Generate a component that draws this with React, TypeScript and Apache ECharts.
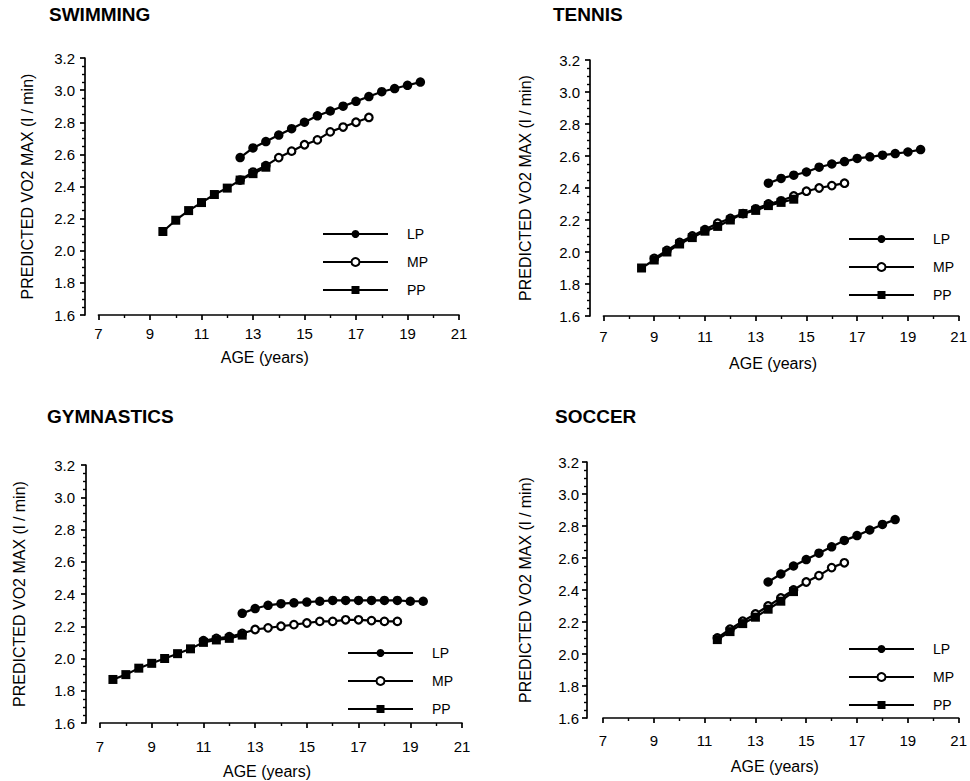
import React, { useEffect, useRef } from "react";
import * as echarts from "echarts";

// ---------- DATA ----------
const xTicks = [7, 9, 11, 13, 15, 17, 19, 21];
const yTicks = [1.6, 1.8, 2.0, 2.2, 2.4, 2.6, 2.8, 3.0, 3.2];
const seriesNames = ["LP", "MP", "PP"];
const panelTitles = ["SWIMMING", "TENNIS", "GYMNASTICS", "SOCCER"];

// Swimming
const swimLPAges = [12.5, 13, 13.5, 14, 14.5, 15, 15.5, 16, 16.5, 17, 17.5, 18, 18.5, 19, 19.5];
const swimLP = [2.58, 2.64, 2.68, 2.72, 2.76, 2.8, 2.84, 2.87, 2.9, 2.93, 2.96, 2.99, 3.01, 3.03, 3.05];
const swimMPAges = [12.5, 13, 13.5, 14, 14.5, 15, 15.5, 16, 16.5, 17, 17.5];
const swimMP = [2.44, 2.49, 2.53, 2.58, 2.62, 2.66, 2.69, 2.74, 2.77, 2.8, 2.83];
const swimPPAges = [9.5, 10, 10.5, 11, 11.5, 12, 12.5, 13, 13.5];
const swimPP = [2.12, 2.19, 2.25, 2.3, 2.35, 2.39, 2.44, 2.48, 2.52];

// Tennis
const tennisLPAges = [13.5, 14, 14.5, 15, 15.5, 16, 16.5, 17, 17.5, 18, 18.5, 19, 19.5];
const tennisLP = [2.43, 2.46, 2.48, 2.5, 2.53, 2.55, 2.565, 2.585, 2.595, 2.605, 2.615, 2.625, 2.64];
const tennisMPAges = [9, 9.5, 10, 10.5, 11, 11.5, 12, 12.5, 13, 13.5, 14, 14.5, 15, 15.5, 16, 16.5];
const tennisMP = [1.96, 2.01, 2.06, 2.1, 2.14, 2.18, 2.21, 2.24, 2.27, 2.3, 2.32, 2.35, 2.38, 2.4, 2.415, 2.43];
const tennisPPAges = [8.5, 9, 9.5, 10, 10.5, 11, 11.5, 12, 12.5, 13, 13.5, 14, 14.5];
const tennisPP = [1.9, 1.95, 2.0, 2.05, 2.09, 2.13, 2.16, 2.2, 2.24, 2.26, 2.29, 2.31, 2.33];

// Gymnastics
const gymLPAges = [12.5, 13, 13.5, 14, 14.5, 15, 15.5, 16, 16.5, 17, 17.5, 18, 18.5, 19, 19.5];
const gymLP = [2.28, 2.31, 2.33, 2.34, 2.345, 2.35, 2.355, 2.36, 2.36, 2.36, 2.36, 2.36, 2.36, 2.355, 2.355];
const gymMPAges = [11, 11.5, 12, 12.5, 13, 13.5, 14, 14.5, 15, 15.5, 16, 16.5, 17, 17.5, 18, 18.5];
const gymMP = [2.11, 2.125, 2.135, 2.155, 2.18, 2.19, 2.2, 2.21, 2.22, 2.23, 2.23, 2.24, 2.24, 2.235, 2.23, 2.23];
const gymPPAges = [7.5, 8, 8.5, 9, 9.5, 10, 10.5, 11, 11.5, 12, 12.5];
const gymPP = [1.87, 1.9, 1.94, 1.97, 2.0, 2.03, 2.06, 2.1, 2.115, 2.125, 2.145];

// Soccer
const soccerLPAges = [13.5, 14, 14.5, 15, 15.5, 16, 16.5, 17, 17.5, 18, 18.5];
const soccerLP = [2.45, 2.5, 2.55, 2.59, 2.63, 2.67, 2.71, 2.74, 2.775, 2.81, 2.84];
const soccerMPAges = [11.5, 12, 12.5, 13, 13.5, 14, 14.5, 15, 15.5, 16, 16.5];
const soccerMP = [2.1, 2.155, 2.205, 2.25, 2.3, 2.35, 2.4, 2.45, 2.49, 2.54, 2.57];
const soccerPPAges = [11.5, 12, 12.5, 13, 13.5, 14, 14.5];
const soccerPP = [2.09, 2.14, 2.19, 2.23, 2.28, 2.33, 2.39];

const panelData = [
  [[swimLPAges, swimLP], [swimMPAges, swimMP], [swimPPAges, swimPP]],
  [[tennisLPAges, tennisLP], [tennisMPAges, tennisMP], [tennisPPAges, tennisPP]],
  [[gymLPAges, gymLP], [gymMPAges, gymMP], [gymPPAges, gymPP]],
  [[soccerLPAges, soccerLP], [soccerMPAges, soccerMP], [soccerPPAges, soccerPP]],
];

// ---------- LAYOUT ----------
const FONT = "Liberation Sans, Arial, Helvetica, sans-serif";
const layouts = [
  { left: 98.5, top: 58, width: 360.5, height: 257, yOff: 13.5, yGap: 50, yLblM: 10, xLblM: 11, xGap: 34, xShift: 28, titleX: 49, titleY: 5, legX: 322, legY: 227 },
  { left: 603.5, top: 60, width: 358.5, height: 256, yOff: 13.5, yGap: 57, yLblM: 10, xLblM: 13, xGap: 39, xShift: 16, titleX: 553, titleY: 5, legX: 848, legY: 232 },
  { left: 100, top: 465, width: 362, height: 258, yOff: 14, yGap: 59, yLblM: 11, xLblM: 16, xGap: 40, xShift: 28, titleX: 47, titleY: 407, legX: 347, legY: 646 },
  { left: 603, top: 462, width: 359, height: 256, yOff: 16, yGap: 54, yLblM: 8, xLblM: 15, xGap: 40, xShift: 12, titleX: 555, titleY: 407, legX: 848, legY: 642 },
];

const axisLineStyle = { color: "#000", width: 1.7 };

export default function App() {
  const ref = useRef<HTMLDivElement>(null);
  useEffect(() => {
    if (!ref.current) return;
    const chart = echarts.init(ref.current, undefined, { renderer: "svg" });
    const grids: any[] = [];
    const xAxes: any[] = [];
    const yAxes: any[] = [];
    const series: any[] = [];
    const legends: any[] = [];
    const titles: any[] = [];

    layouts.forEach((L, i) => {
      grids.push({ left: L.left, top: L.top, width: L.width, height: L.height });
      xAxes.push({
        type: "value",
        gridIndex: i,
        min: xTicks[0],
        max: xTicks[xTicks.length - 1],
        interval: 2,
        name: "AGE (years)",
        nameLocation: "middle",
        nameGap: L.xGap,
        nameTextStyle: { color: "#000", fontSize: 16, fontFamily: FONT, padding: [0, L.xShift, 0, 0] },
        axisLine: { lineStyle: axisLineStyle },
        axisTick: { length: 5, lineStyle: axisLineStyle },
        minorTick: { show: true, splitNumber: 2, length: 3, lineStyle: { color: "#000", width: 1.4 } },
        splitLine: { show: false },
        axisLabel: { color: "#000", fontSize: 15, fontFamily: FONT, margin: L.xLblM },
      });
      yAxes.push({
        type: "value",
        gridIndex: i,
        min: yTicks[0],
        max: yTicks[yTicks.length - 1],
        interval: 0.2,
        offset: L.yOff,
        name: "PREDICTED VO2 MAX (l / min)",
        nameLocation: "middle",
        nameGap: L.yGap,
        nameTextStyle: { color: "#000", fontSize: 16, fontFamily: FONT },
        axisLine: { show: true, lineStyle: axisLineStyle },
        axisTick: { show: true, length: 5, lineStyle: axisLineStyle },
        minorTick: { show: true, splitNumber: 4, length: 3, lineStyle: { color: "#000", width: 1.4 } },
        splitLine: { show: false },
        axisLabel: {
          color: "#000",
          fontSize: 15,
          fontFamily: FONT,
          margin: L.yLblM,
          formatter: (v: number) => v.toFixed(1),
        },
      });
      panelData[i].forEach(([ages, vals], k) => {
        const name = seriesNames[k];
        const isMP = name === "MP";
        const isPP = name === "PP";
        series.push({
          type: "line",
          name,
          xAxisIndex: i,
          yAxisIndex: i,
          data: (ages as number[]).map((a, j) => [a, (vals as number[])[j]]),
          symbol: isPP ? "rect" : "circle",
          symbolSize: isPP ? 9 : isMP ? 7.5 : 9.5,
          showSymbol: true,
          lineStyle: { color: "#000", width: 2.2 },
          itemStyle: isMP
            ? { color: "#fff", borderColor: "#000", borderWidth: 2.2 }
            : { color: "#000", borderColor: "#000", borderWidth: 0 },
          z: isPP ? 4 : 3,
          silent: true,
        });
      });
      legends.push({
        data: seriesNames,
        orient: "vertical",
        left: L.legX,
        top: L.legY,
        padding: 0,
        itemWidth: 65,
        itemHeight: 10,
        itemGap: 14,
        selectedMode: false,
        textStyle: { color: "#000", fontSize: 14, fontFamily: FONT, padding: [0, 0, 0, 14], lineHeight: 10 },
      });
      titles.push({
        text: panelTitles[i],
        left: L.titleX,
        top: L.titleY,
        padding: 0,
        textStyle: { color: "#000", fontSize: 19, fontWeight: "bold", fontFamily: FONT },
      });
    });

    chart.setOption({
      animation: false,
      backgroundColor: "#fff",
      title: titles,
      grid: grids,
      xAxis: xAxes,
      yAxis: yAxes,
      series,
      legend: legends,
    });
    return () => chart.dispose();
  }, []);

  return (
    <div
      ref={ref}
      style={{ position: "absolute", left: 0, top: 0, width: 970, height: 781, background: "#fff" }}
    />
  );
}
